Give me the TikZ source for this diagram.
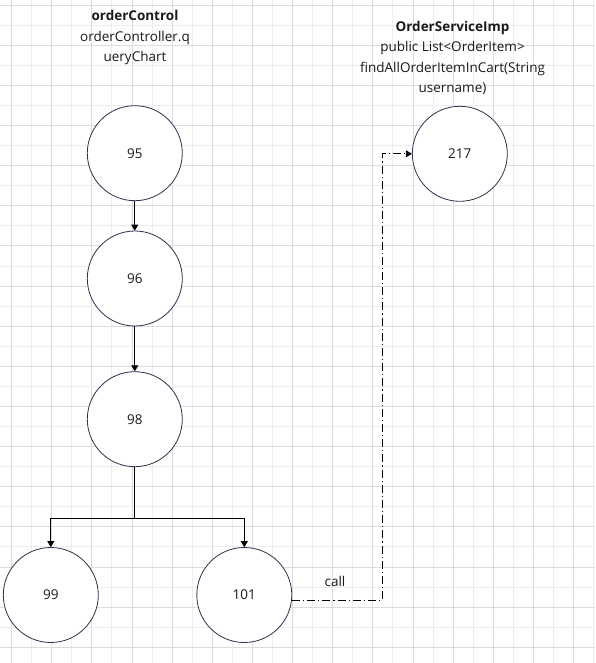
\documentclass[tikz,border=0pt]{standalone}
\usepackage{fontspec}
\setmainfont{Open Sans}
\usetikzlibrary{arrows.meta,calc}
\definecolor{gridlight}{HTML}{EDEDED}
\definecolor{griddark}{HTML}{DCDCDC}
\definecolor{ringcol}{HTML}{30304E}
\definecolor{txtcol}{HTML}{1A1A1A}
\tikzset{
  ring/.style={draw=ringcol, line width=0.8pt, circle, minimum size=95pt, inner sep=0pt, fill=white, text=txtcol, font=\fontsize{13.5}{16}\selectfont},
  title/.style={align=center, text=txtcol, font=\fontsize{13.5}{20.5}\selectfont, inner sep=0pt},
  arr/.style={draw=black, line width=0.8pt, -{Triangle[length=6pt,width=7pt]}},
  link/.style={draw=black, line width=0.8pt},
  calledge/.style={draw=black, line width=0.8pt, dash pattern=on 8pt off 3pt on 1.2pt off 3pt, -{Triangle[length=6pt,width=7pt]}},
  lbl/.style={text=txtcol, font=\fontsize{13.5}{16}\selectfont, inner sep=0pt}
}
\begin{document}
\begin{tikzpicture}[x=1pt,y=-1pt]
\useasboundingbox (0,0) rectangle (595,663);
\fill[white] (0,0) rectangle (595,663);
% grid
\foreach \k in {0,...,29}{
  \pgfmathsetmacro{\xx}{11.5+20.07*\k}
  \pgfmathtruncatemacro{\ev}{mod(\k,2)}
  \ifnum\ev=0 \draw[griddark,line width=0.8pt] (\xx,0) -- (\xx,663);
  \else \draw[gridlight,line width=0.8pt] (\xx,0) -- (\xx,663); \fi
}
\foreach \k in {0,...,32}{
  \pgfmathsetmacro{\yy}{5+20.07*\k}
  \pgfmathtruncatemacro{\ev}{mod(\k,2)}
  \ifnum\ev=0 \draw[griddark,line width=0.8pt] (0,\yy) -- (595,\yy);
  \else \draw[gridlight,line width=0.8pt] (0,\yy) -- (595,\yy); \fi
}
% titles
\node[title] (t1) at (135,37.5) {\textbf{orderControl}\\orderController.q\\ueryChart};
\node[title] (t2) at (452.5,58) {\textbf{OrderServiceImp}\\public List<OrderItem>\\findAllOrderItemInCart(String\\username)};
% nodes
\node[ring] (95) at (134.8,153.2) {95};
\node[ring] (96) at (134.8,278.5) {96};
\node[ring] (98) at (134.8,419.2) {98};
\node[ring] (99) at (50.8,595) {99};
\node[ring] (101) at (244.3,595) {101};
\node[ring] (217) at (459.8,153.8) {217};
% edges
\draw[arr] (95) -- (96);
\draw[arr] (96) -- (98);
\coordinate (br) at (134.8,518.3);
\draw[link] (98) -- (br);
\draw[arr] (br) -| (99);
\draw[arr] (br) -| (101);
\coordinate (cv) at (382.3,153.8);
\draw[calledge] (101.-6) -| (cv) -- (217);
\node[lbl] (call) at (335,581.5) {call};
\end{tikzpicture}
\end{document}
